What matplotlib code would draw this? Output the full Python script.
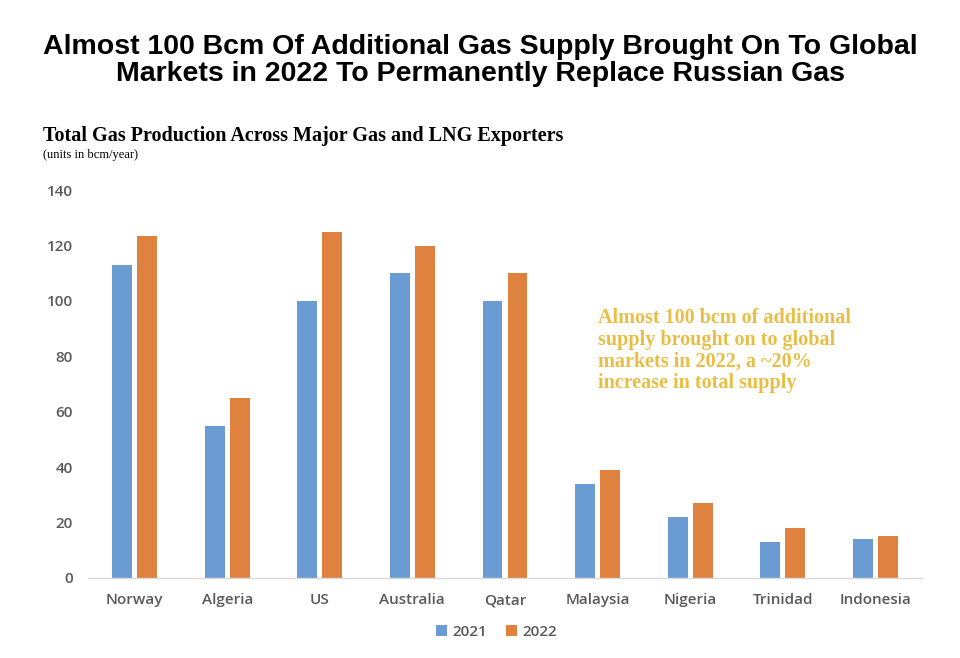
import numpy as np
import matplotlib.pyplot as plt

countries = ["Norway", "Algeria", "US", "Australia", "Qatar",
             "Malaysia", "Nigeria", "Trinidad", "Indonesia"]
prod_2021 = [113, 55, 100, 110, 100, 34, 22, 13, 14]
prod_2022 = [123.5, 65, 125, 120, 110, 39, 27, 18, 15]
yticks = [0, 20, 40, 60, 80, 100, 120, 140]

blue = "#6A9BD2"
orange = "#E0823F"
grey = "#595959"

fig = plt.figure(figsize=(9.6, 6.58), dpi=100)
ax = fig.add_axes([0.092, 0.1216, 0.868, 0.5894])

x = np.arange(len(countries))
w = 0.215
ax.bar(x - 0.135, prod_2021, width=w, color=blue, label="2021")
ax.bar(x + 0.135, prod_2022, width=w, color=orange, label="2022")

ax.set_xlim(-0.5, len(countries) - 0.5)
ax.set_ylim(0, 140)
ax.set_yticks(yticks)
ax.set_xticks(x)
ax.set_xticklabels(countries)

for side in ("top", "left", "right"):
    ax.spines[side].set_visible(False)
ax.spines["bottom"].set_color("#D9D9D9")
ax.spines["bottom"].set_linewidth(1)

ax.tick_params(axis="both", length=0, labelsize=11, labelcolor=grey)
ax.tick_params(axis="x", pad=11)
ax.tick_params(axis="y", pad=11)
for lab in ax.get_xticklabels() + ax.get_yticklabels():
    lab.set_fontfamily("Open Sans")
    lab.set_fontweight("semibold")

leg = ax.legend(loc="upper center", bbox_to_anchor=(0.49, -0.085), ncol=2,
                frameon=False, handlelength=0.7, handleheight=0.7,
                handletextpad=0.4, columnspacing=1.2,
                prop={"family": "Open Sans", "weight": "semibold", "size": 11})
for t in leg.get_texts():
    t.set_color(grey)

fig.text(0.5, 0.908, "Almost 100 Bcm Of Additional Gas Supply Brought On To Global\n"
         "Markets in 2022 To Permanently Replace Russian Gas",
         ha="center", va="center", fontsize=20.5, fontweight="bold",
         family="Liberation Sans", linespacing=1.05)

fig.text(0.045, 0.785, "Total Gas Production Across Major Gas and LNG Exporters",
         ha="left", va="baseline", fontsize=14.5, fontweight="bold",
         family="Liberation Serif")
fig.text(0.045, 0.76, "(units in bcm/year)", ha="left", va="baseline",
         fontsize=9, family="Liberation Serif")

ax.text(5.0, 97.5, "Almost 100 bcm of additional\nsupply brought on to global\n"
        "markets in 2022, a ~20%\nincrease in total supply",
        ha="left", va="top", fontsize=14.5, fontweight="bold",
        family="Liberation Serif", color="#E8BE45", linespacing=1.12)

fig.savefig("out.png", dpi=100)
